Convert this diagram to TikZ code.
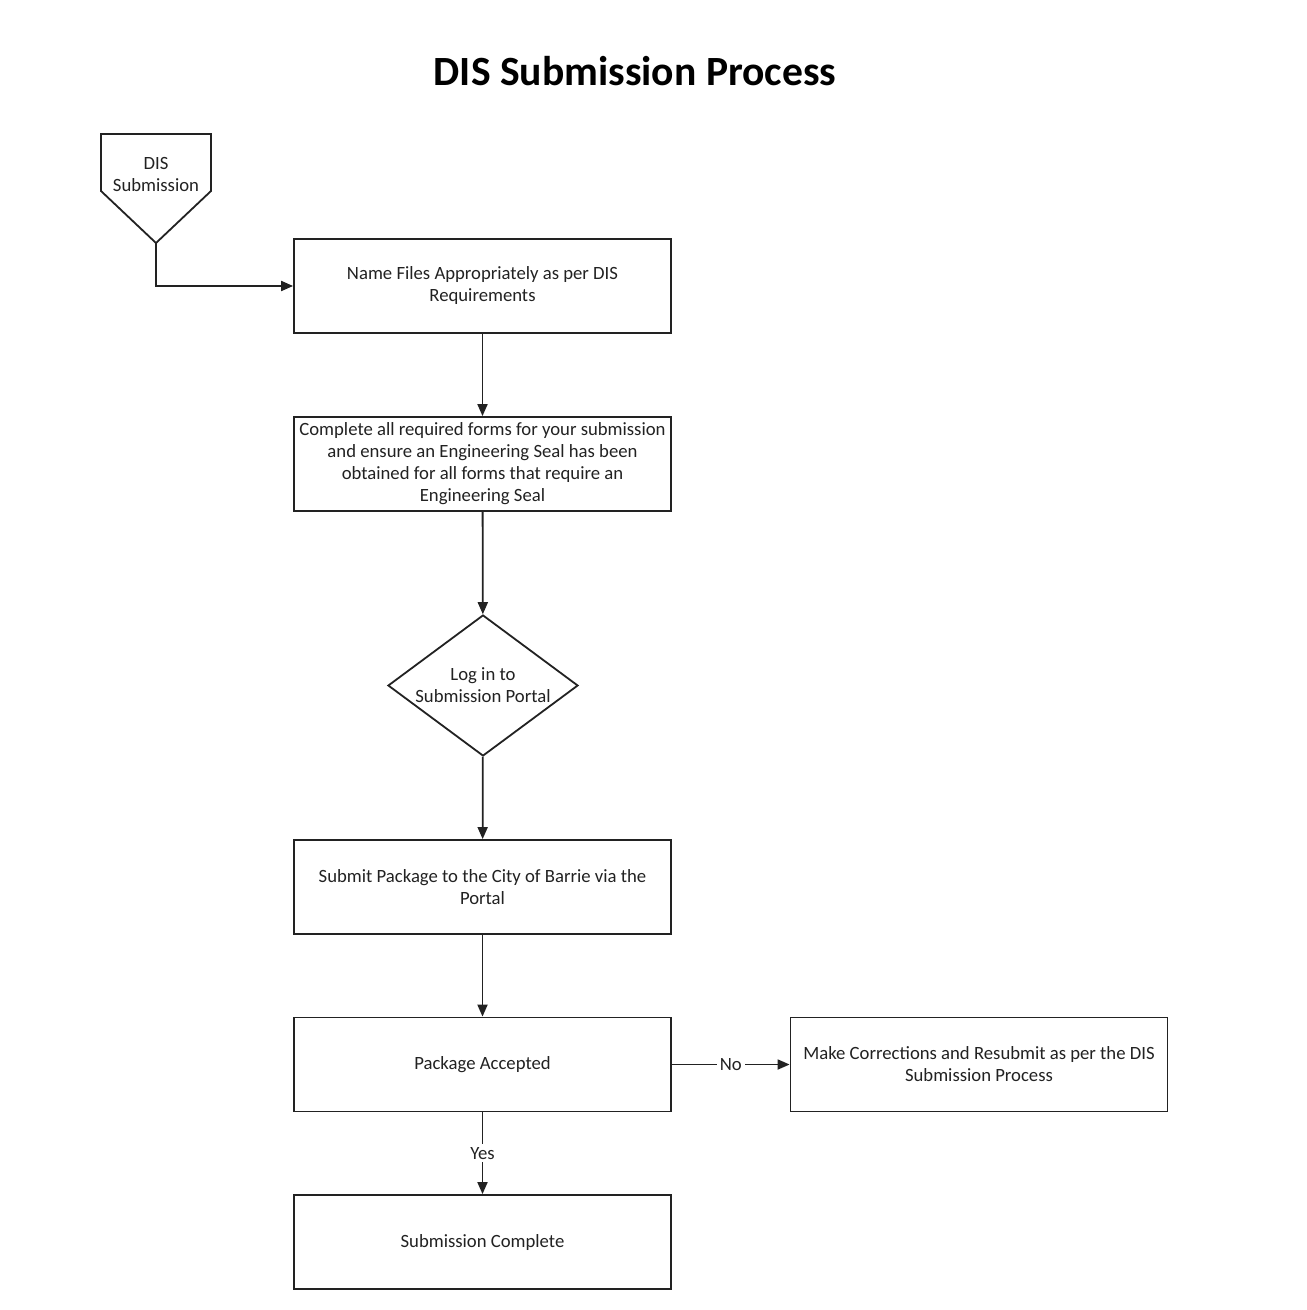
\documentclass[tikz,border=0pt]{standalone}
\usepackage{fontspec}
\setmainfont{Carlito}
\usetikzlibrary{arrows.meta,shapes.geometric}
\definecolor{ink}{HTML}{222222}
\begin{document}
\begin{tikzpicture}[x=0.5pt,y=-0.5pt,
  every node/.style={text=ink},
  txt/.style={font=\fontsize{9.35}{11}\selectfont, align=center},
  procbox/.style={draw=ink, line width=0.9pt, fill=white, minimum width=188.5pt, minimum height=47pt, inner sep=0pt, txt},
  decbox/.style={draw=ink, line width=0.9pt, diamond, aspect=1.35, minimum width=95pt, minimum height=70.5pt, inner sep=0pt, txt},
  conn/.style={draw=ink, line width=0.9pt, -{Triangle[length=6pt,width=5pt]}},
  lbl/.style={fill=white, inner sep=1.5pt, txt}
]
\useasboundingbox[fill=white] (0,0) rectangle (1306,1310);

\node[font=\fontsize{20.8}{24}\selectfont\bfseries, text=black] (title) at (635,71) {DIS Submission Process};

% off-page connector
\draw[draw=ink, line width=0.9pt] (101,134) -- (211,134) -- (211,191) -- (156,243) -- (101,191) -- cycle;
\node[txt] (dis) at (156,175) {DIS\\Submission};
\coordinate (distip) at (156,243);

\node[procbox] (name) at (482.5,286) {Name Files Appropriately as per DIS\\Requirements};
\node[procbox] (forms) at (482.5,464) {Complete all required forms for your submission\\and ensure an Engineering Seal has been\\obtained for all forms that require an\\Engineering Seal};
\node[decbox] (login) at (483,685.5) {Log in to\\Submission Portal};
\node[procbox] (submit) at (482.5,887) {Submit Package to the City of Barrie via the\\Portal};
\node[procbox] (accepted) at (482.5,1064.5) {Package Accepted};
\node[procbox] (correct) at (979,1064.5) {Make Corrections and Resubmit as per the DIS\\Submission Process};
\node[procbox] (complete) at (482.5,1242) {Submission Complete};

\draw[conn] (distip) |- (name.west);
\draw[conn] (name) -- (forms);
\draw[conn] (forms) -- (login);
\draw[conn] (login) -- (submit);
\draw[conn] (submit) -- (accepted);
\draw[conn] (accepted) -- node[lbl] {No} (correct);
\draw[conn] (accepted) -- node[lbl, pos=0.5] {Yes} (complete);
\end{tikzpicture}
\end{document}
